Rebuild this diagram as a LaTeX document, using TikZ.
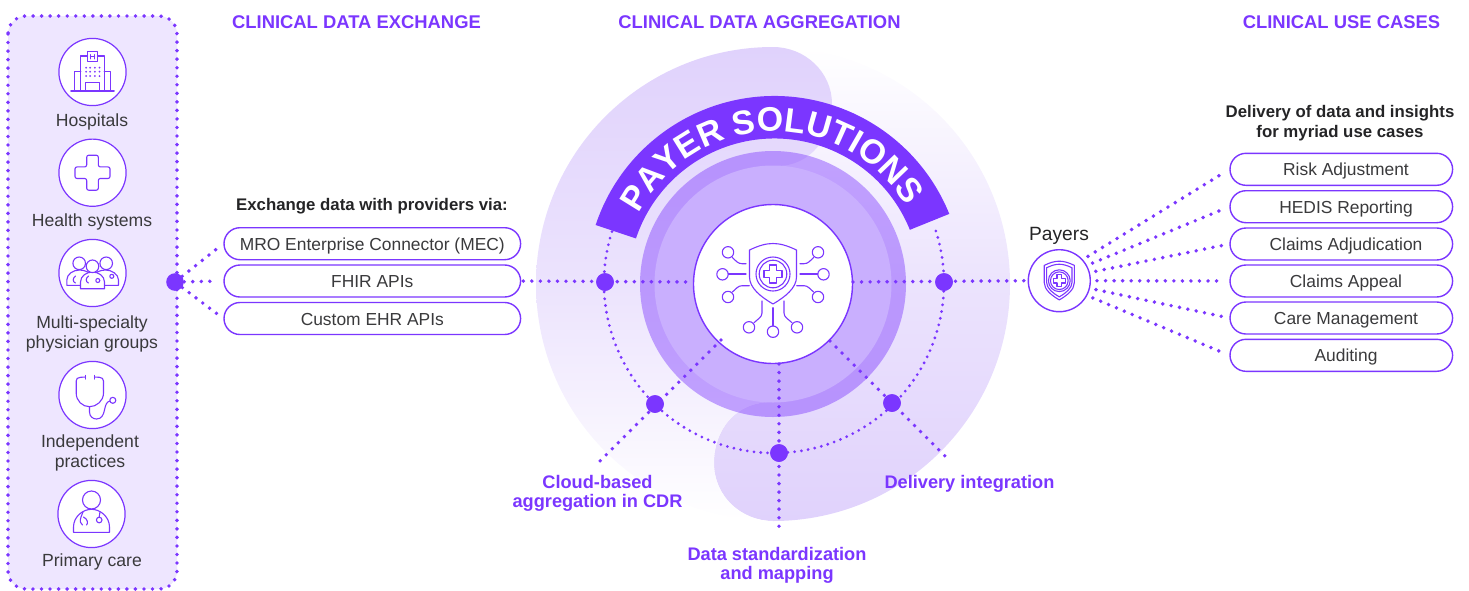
\documentclass[tikz,border=0pt]{standalone}
\usepackage{fontspec}
\setmainfont{Liberation Sans}
\usetikzlibrary{shapes.misc,decorations.text}
\definecolor{pur}{HTML}{7B36FF}
\definecolor{ink}{HTML}{3A3A3C}
\definecolor{inkb}{HTML}{242426}
\definecolor{lil}{HTML}{EEE6FF}
\definecolor{blob}{HTML}{E0D2FC}
\definecolor{innerd}{HTML}{C9AFFE}
\tikzset{
  px/.style={x=0.5pt,y=-0.5pt},
  dotline/.style={draw=pur,line width=1.95pt,line cap=round,dash pattern=on 0pt off 4.27pt},
  linkline/.style={dotline,shorten <=3pt,shorten >=3pt},
  dotarc/.style={draw=pur,line width=1.55pt,line cap=round,dash pattern=on 0pt off 3.4pt},
  hub/.style={circle,fill=pur,inner sep=0pt,minimum size=8.8pt},
  iconcirc/.style={circle,draw=pur,fill=white,line width=0.6pt,inner sep=0pt,minimum size=33.6pt},
  ic/.style={draw=pur,line width=0.55pt,line join=round,line cap=round},
  pilll/.style={rounded rectangle,draw=pur,fill=white,line width=0.7pt,inner sep=0pt,minimum width=148.3pt,minimum height=16pt,text=ink,text height=7.3pt,text depth=0.7pt,font=\fontsize{8.7}{10}\selectfont},
  pillr/.style={rounded rectangle,draw=pur,fill=white,line width=0.7pt,inner sep=0pt,minimum width=111.3pt,minimum height=16pt,text=ink,text height=7.3pt,text depth=0.7pt,font=\fontsize{8.7}{10}\selectfont},
  lab/.style={text=ink,align=center,inner sep=0pt,font=\fontsize{8.8}{10}\selectfont},
  boldlab/.style={text=inkb,align=center,inner sep=0pt,font=\fontsize{8.4}{10}\selectfont\bfseries},
  head/.style={text=pur,inner sep=0pt,font=\fontsize{9.2}{10}\selectfont\bfseries},
  plab/.style={text=pur,align=center,inner sep=0pt,font=\fontsize{9.1}{9.7}\selectfont\bfseries},
  shieldline/.pic={
    \draw[ic] (-23.5,-24) .. controls (-14,-28.5) and (-7,-30.5) .. (0,-30.5) .. controls (7,-30.5) and (14,-28.5) .. (23.5,-24)
      -- (23.5,3) .. controls (23.5,14) and (12,23) .. (0,30) .. controls (-12,23) and (-23.5,14) .. (-23.5,3) -- cycle;},
  crossbadge/.pic={
    \draw[ic] (0,0) circle[radius=17];
    \draw[ic] (0,0) circle[radius=13.8];
    \draw[ic] (-3.6,-9) -- (3.6,-9) -- (3.6,-3.6) -- (9,-3.6) -- (9,3.6) -- (3.6,3.6) -- (3.6,9) -- (-3.6,9) -- (-3.6,3.6) -- (-9,3.6) -- (-9,-3.6) -- (-3.6,-3.6) -- cycle;}
}
\begin{document}
\begin{tikzpicture}[px]
\useasboundingbox (0,0) rectangle (1469,590);
% blobs
\shade[top color=white,bottom color=blob,middle color=blob!62!white]
  (772,402) .. controls (735,402) and (714,430) .. (714,463) .. controls (714,497) and (742,521) .. (773,521)
  arc[start angle=90,end angle=-90,radius=237] -- cycle;
\shade[top color=blob,bottom color=white,middle color=blob!62!white]
  (777,166) .. controls (810,166) and (832,138) .. (832,104) .. controls (832,72) and (805,47) .. (773,47)
  arc[start angle=270,end angle=90,radius=237]
  .. controls (742,521) and (714,497) .. (714,463) .. controls (714,430) and (735,402) .. (772,402) -- cycle;
% discs
\fill[pur,opacity=0.43] (773,284) circle[radius=133];
\fill[innerd] (773,284) circle[radius=118.5];
% banner
\fill[pur] (774.5,284.5) ++(198.4:188.5) arc[start angle=198.4,end angle=338,radius=188.5]
  -- ++(158:42.5) arc[start angle=338,end angle=198.4,radius=146] -- cycle;
\path[decorate,decoration={text along path,text align=fit to path,
   text={|\fontsize{17}{17}\selectfont\bfseries\color{white}|PAYER SOLUTIONS}}]
   (774.5,284.5) ++(207.6:153) arc[start angle=207.6,end angle=329,radius=153];
% left panel
\draw[fill=lil,dotline,rounded corners=9pt] (8,16) rectangle (177,589);
\node[iconcirc] (ihosp) at (92.5,72) {};
\node[iconcirc] (ihealth) at (92.5,172.7) {};
\node[iconcirc] (igroup) at (92.5,273) {};
\node[iconcirc] (isteth) at (92.5,395) {};
\node[iconcirc] (iprim) at (91.5,514) {};
\node[lab] (thosp) at (92,122) {Hospitals};
\node[lab] (thealth) at (92,222) {Health systems};
\node[lab] (tgroup) at (92,334) {Multi-specialty\\physician groups};
\node[lab] (tsteth) at (90,453) {Independent\\practices};
\node[lab] (tprim) at (92,562) {Primary care};
% hospital icon
\begin{scope}[shift={(92.5,72)}]
\draw[ic] (-21.7,19) -- (21.7,19);
\draw[ic] (-11.7,19) -- (-11.7,-16) -- (-5,-16) (5,-16) -- (11.7,-16) -- (11.7,19);
\draw[ic] (-5,-20.3) rectangle (5,-10.3);
\draw[ic] (-18.3,19) -- (-18.3,-0.7) -- (-11.7,-0.7) (18.3,19) -- (18.3,-0.7) -- (11.7,-0.7);
\draw[ic] (-6.7,19) -- (-6.7,10.3) -- (7,10.3) -- (7,19);
\draw[ic,line width=0.7pt] (-2,-17.3) -- (-2,-13.3) (2,-17.3) -- (2,-13.3) (-2,-15.3) -- (2,-15.3);
\foreach \a in {-6.3,-2.3,2.3,7} \foreach \b in {-4.3,-0.3,4} \fill[pur] (\a,\b) circle[radius=1];
\end{scope}
% plus icon
\draw[ic,rounded corners=1pt,shift={(92.5,172.7)}] (-5.8,-17.5) -- (5.8,-17.5) -- (5.8,-5.8) -- (17.5,-5.8) -- (17.5,5.8) -- (5.8,5.8) -- (5.8,17.5) -- (-5.8,17.5) -- (-5.8,5.8) -- (-17.5,5.8) -- (-17.5,-5.8) -- (-5.8,-5.8) -- cycle;
% group icon
\begin{scope}[shift={(92.5,273)}]
\draw[ic] (-13.3,-9.7) circle[radius=6.3];
\draw[ic] (13.7,-9.7) circle[radius=6.3];
\draw[ic,fill=white] (-25.7,12.3) -- (-25.7,7) .. controls (-25.7,1) and (-19,-3) .. (-13,-3) .. controls (-7,-3) and (-2,0) .. (0,3) -- (0,12.3) -- cycle;
\draw[ic,fill=white] (26,12.3) -- (26,7) .. controls (26,1) and (19,-3) .. (13,-3) .. controls (7,-3) and (2,0) .. (0,3) -- (0,12.3) -- cycle;
\draw[ic,fill=white] (-12,15.7) -- (-12,9) .. controls (-12,3) and (-6,-1) .. (0,-1) .. controls (6,-1) and (12,3) .. (12,9) -- (12,15.7) -- cycle;
\draw[ic,fill=white] (0,-6.7) circle[radius=6.3];
\draw[ic] (-17,3) .. controls (-20,5) and (-20,9) .. (-17,10);
\draw[ic] (-4,3) .. controls (-7,5) and (-7,9) .. (-4,10);
\draw[ic] (5.3,7.5) circle[radius=2];
\draw[ic] (19.3,3.3) circle[radius=2];
\end{scope}
% stethoscope icon
\begin{scope}[shift={(92.5,395)}]
\draw[ic] (-7,-18) -- (-12,-17.7) .. controls (-15,-17.7) and (-16.3,-16) .. (-16.3,-14) -- (-16.3,-2) .. controls (-16.3,6) and (-10,11.7) .. (-3,11.7) .. controls (4,11.7) and (11,6) .. (11,-2) -- (11,-14) .. controls (11,-16) and (9.5,-17.7) .. (7,-17.7) -- (2,-18);
\draw[ic] (-7,-19.5) -- (-7,-16) (2,-19.5) -- (2,-16);
\draw[ic] (-3,11.7) -- (-3,17) .. controls (-3,22) and (1,24) .. (4,24) .. controls (9,24) and (11,20) .. (12,15) .. controls (13,10) and (14,7) .. (17.3,6);
\draw[ic] (20.3,5.3) circle[radius=3];
\end{scope}
% primary care icon
\begin{scope}[shift={(91.5,514)}]
\draw[ic] (0,-14) circle[radius=9];
\draw[ic] (-18,18.3) -- (-18,13) .. controls (-18,3) and (-9,-4.7) .. (0,-4.7) .. controls (9,-4.7) and (18,3) .. (18,13) -- (18,18.3) -- cycle;
\draw[ic] (-8.5,-2) -- (-10.5,3) .. controls (-12,7) and (-11,10) .. (-9,11) (-8,3) .. controls (-4,5) and (-3,9) .. (-5,11);
\draw[ic] (8.5,-2) -- (7.7,3);
\draw[ic] (7.7,6) circle[radius=2.8];
\end{scope}
% headers
\node[head] (h1) at (356.5,22) {CLINICAL DATA EXCHANGE};
\node[head] (h2) at (759.5,22) {CLINICAL DATA AGGREGATION};
\node[head] (h3) at (1341.5,22) {CLINICAL USE CASES};
% left pills
\node[boldlab] (tex) at (372,206) {Exchange data with providers via:};
\node[pilll] (l1) at (372.3,243.7) {MRO Enterprise Connector (MEC)};
\node[pilll] (l2) at (372.3,281) {FHIR APIs};
\node[pilll] (l3) at (372.3,318.5) {Custom EHR APIs};
\node[hub] (h0) at (175,282) {};
\draw[linkline,shorten <=0pt] (h0) -- (l1.west);
\draw[linkline,shorten <=0pt] (h0) -- (l2.west);
\draw[linkline,shorten <=0pt] (h0) -- (l3.west);
% right side
\node[boldlab] (tdel) at (1340,123.5) {Delivery of data and insights\\for myriad use cases};
\node[pillr] (r1) at (1341.3,169.3) {\hspace*{4.7pt}Risk Adjustment};
\node[pillr] (r2) at (1341.3,206.7) {\hspace*{4.7pt}HEDIS Reporting};
\node[pillr] (r3) at (1341.3,244) {\hspace*{4.7pt}Claims Adjudication};
\node[pillr] (r4) at (1341.3,281) {\hspace*{4.7pt}Claims Appeal};
\node[pillr] (r5) at (1341.3,318) {\hspace*{4.7pt}Care Management};
\node[pillr] (r6) at (1341.3,355.3) {\hspace*{4.7pt}Auditing};
\node[lab,text=inkb,font=\fontsize{9.6}{10}\selectfont] (tpay) at (1059,236) {Payers};
\node[circle,draw=pur,fill=white,line width=0.7pt,inner sep=0pt,minimum size=31pt] (pay) at (1059.3,280.7) {};
\pic[scale=0.64] at (1059.3,280.7) {shieldline};
\pic[scale=0.54] at (1059.3,280.7) {shieldline};
\pic[scale=0.64] at (1059.3,280.7) {crossbadge};
\draw[linkline] (pay.42) -- (r1.west);
\draw[linkline] (pay.29) -- (r2.west);
\draw[linkline] (pay.15) -- (r3.west);
\draw[linkline] (pay.0) -- (r4.west);
\draw[linkline] (pay.-14) -- (r5.west);
\draw[linkline] (pay.-28) -- (r6.west);
% centre
\coordinate (arcs) at (774,283);
\draw[dotarc] (arcs) ++(197.6:170) arc[start angle=197.6,end angle=-18,radius=170];
\node[circle,draw=pur,fill=white,line width=0.7pt,inner sep=0pt,minimum size=79.5pt] (core) at (773,284) {};
\node[hub] (n1) at (605,282) {};
\node[hub] (n2) at (944,282) {};
\node[hub] (n3) at (655,404) {};
\node[hub] (n4) at (779,453) {};
\node[hub] (n5) at (892,403) {};
\coordinate (e3) at (600,461);
\coordinate (e4) at (779,532);
\coordinate (e5) at (950,461);
\coordinate (s3) at (721,340);
\coordinate (s4) at (779,364);
\coordinate (s5) at (830,341);
\coordinate (sl) at (693,282);
\coordinate (sr) at (853,282);
\draw[dotline,shorten <=1pt] (l2.east) -- (sl);
\draw[dotline,shorten >=1.5pt] (sr) -- (pay.180);
\draw[dotline] (s3) -- (e3);
\draw[dotline] (s4) -- (e4);
\draw[dotline] (s5) -- (e5);
\node[hub] at (n1) {};
\node[hub] at (n2) {};
\node[hub] at (n3) {};
\node[hub] at (n4) {};
\node[hub] at (n5) {};
% core icon
\begin{scope}[shift={(773,274)}]
\pic at (0,0) {shieldline};
\pic at (0,0) {crossbadge};
\foreach \p in {(-45,-21.7),(-50.5,0.3),(-45,23),(45,-21.7),(50.5,0.3),(45,23),(-24,53.3),(0,57.7),(24,53.3)}
  \draw[ic] \p circle[radius=5.7];
\foreach \s in {1,-1}{
  \draw[ic] (\s*40.6,-16.5) .. controls (\s*37,-13) and (\s*35,-10.3) .. (\s*31,-10.3) -- (\s*27,-10.3);
  \draw[ic] (\s*44.8,0) -- (\s*27,0);
  \draw[ic] (\s*40.6,18) .. controls (\s*37,15) and (\s*35,11.7) .. (\s*31,11.7) -- (\s*23.7,11.7);
  \draw[ic] (\s*11,27) -- (\s*11,39) .. controls (\s*11,43) and (\s*15,45) .. (\s*19,48.7);
}
\draw[ic] (0,33.7) -- (0,52);
\end{scope}
% labels
\node[plab] (p1) at (597.5,493.5) {Cloud-based\\aggregation in CDR};
\node[plab] (p2) at (969.5,484) {Delivery integration};
\node[plab] (p3) at (777,565.5) {Data standardization\\and mapping};
\end{tikzpicture}
\end{document}
